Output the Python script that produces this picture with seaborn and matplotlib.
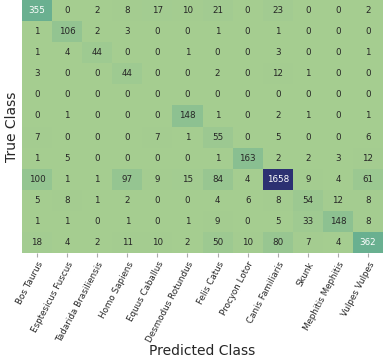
import numpy as np
import pandas as pd
import matplotlib
matplotlib.use("Agg")
import matplotlib.pyplot as plt
import seaborn as sns

classes = ["Bos Taurus", "Esptesicus Fuscus", "Tadarida Brasiliensis", "Homo Sapiens",
           "Equus Caballus", "Desmodus Rotundus", "Felis Catus", "Procyon Lotor",
           "Canis Familiaris", "Skunk", "Mephitis Mephitis", "Vulpes Vulpes"]

row_bos = [355, 0, 2, 8, 17, 10, 21, 0, 23, 0, 0, 2]
row_esp = [1, 106, 2, 3, 0, 0, 1, 0, 1, 0, 0, 0]
row_tad = [1, 4, 44, 0, 0, 1, 0, 0, 3, 0, 0, 1]
row_hom = [3, 0, 0, 44, 0, 0, 2, 0, 12, 1, 0, 0]
row_equ = [0, 0, 0, 0, 0, 0, 0, 0, 0, 0, 0, 0]
row_des = [0, 1, 0, 0, 0, 148, 1, 0, 2, 1, 0, 1]
row_fel = [7, 0, 0, 0, 7, 1, 55, 0, 5, 0, 0, 6]
row_pro = [1, 5, 0, 0, 0, 0, 1, 163, 2, 2, 3, 12]
row_can = [100, 1, 1, 97, 9, 15, 84, 4, 1658, 9, 4, 61]
row_sku = [5, 8, 1, 2, 0, 0, 4, 6, 8, 54, 12, 8]
row_mep = [1, 1, 0, 1, 0, 1, 9, 0, 5, 33, 148, 8]
row_vul = [18, 4, 2, 11, 10, 2, 50, 10, 80, 7, 4, 362]

matrix = np.array([row_bos, row_esp, row_tad, row_hom, row_equ, row_des,
                   row_fel, row_pro, row_can, row_sku, row_mep, row_vul])
df = pd.DataFrame(matrix, index=classes, columns=classes)

plt.rcParams["text.color"] = "#262626"
plt.rcParams["xtick.color"] = "#262626"

fig = plt.figure(figsize=(3.83, 3.62), dpi=100)
ax = fig.add_axes([22 / 383, 1 - 253 / 362, 1 - 22 / 383, 253 / 362])
sns.heatmap(df, annot=True, fmt="d", cmap="crest", cbar=False, ax=ax,
            annot_kws={"fontsize": 6.3}, yticklabels=False)
ax.set_xticklabels(classes, rotation=62, ha="right", rotation_mode="anchor",
                   fontsize=6.3, color="#262626")
ax.tick_params(axis="x", length=3, color="#aaaaaa", pad=2)
ax.tick_params(axis="y", length=0)
ax.set_xlabel("Predicted Class", fontsize=10, labelpad=0, color="#262626")
ax.set_ylabel("True Class", fontsize=10, labelpad=2, color="#262626")
fig.savefig("out.png", dpi=100)
